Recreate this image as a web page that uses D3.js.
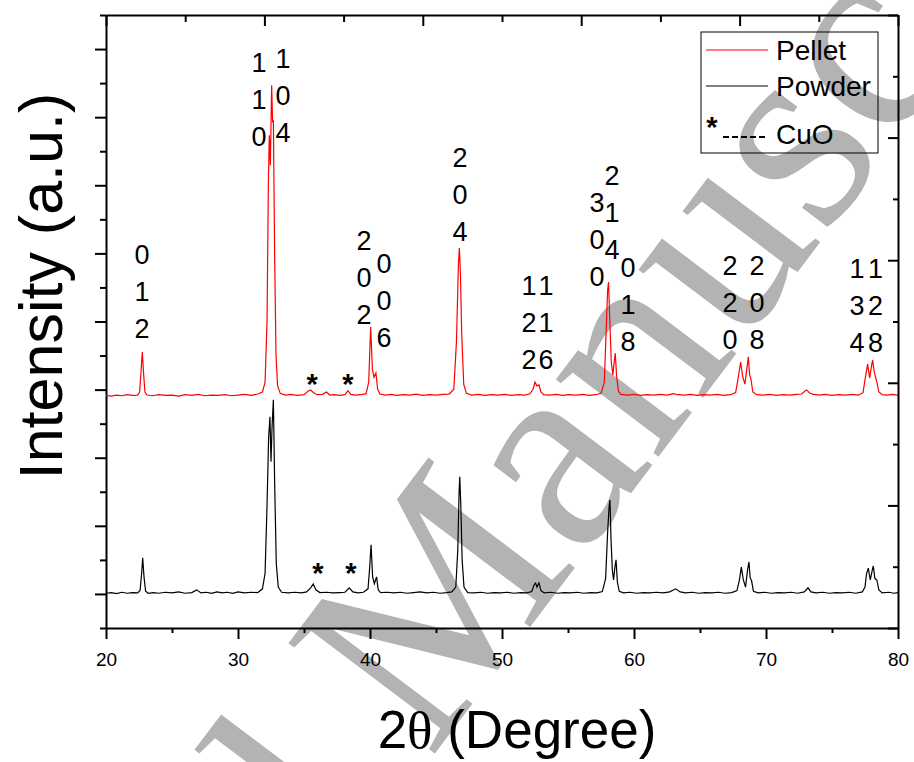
<!DOCTYPE html>
<html lang="en">
<head>
<meta charset="UTF-8">
<title>XRD - Pellet vs Powder</title>
<script src="https://d3js.org/d3.v7.min.js"></script>
<style>
    body { margin: 0; background: #fff; }
    svg { display: block; font-family: Arial, "Liberation Sans", sans-serif; }
    .frame path.domain, .frame line { stroke: #000; stroke-width: 2px; }
    .hkl { font-size: 27px; fill: #000; text-anchor: middle; }
    .star { font-size: 29px; font-weight: bold; fill: #000; text-anchor: middle; }
    .legend text { font-size: 28px; fill: #000; }
</style>
</head>
<body>
<svg width="914" height="762"></svg>
<script>
// 2theta (deg) and intensity above each pattern's own baseline (a.u.)
const pelletPattern = [
    [20.0,0.02],[20.4,0.00],[20.8,0.03],[21.2,0.01],[21.6,0.04],[22.0,0.02],[22.4,0.03],[22.55,0.12],[22.65,0.7],[22.75,1.29],
    [22.85,0.65],[22.95,0.12],[23.1,0.03],[23.5,0.01],[24.0,0.04],[24.5,0.02],[25.0,0.03],[25.5,0.00],[26.0,0.04],[26.5,0.02],
    [27.0,0.05],[27.5,0.01],[28.0,0.03],[28.5,0.02],[29.0,0.04],[29.5,0.01],[30.0,0.03],[30.5,0.05],[31.0,0.02],[31.5,0.06],
    [31.85,0.12],[32.05,0.4],[32.2,2.2],[32.3,6.2],[32.37,7.66],[32.45,6.78],[32.55,9.13],[32.62,8.04],[32.68,8.1],[32.78,4.0],
    [32.88,1.2],[33.0,0.3],[33.2,0.08],[33.6,0.03],[34.0,0.05],[34.5,0.02],[35.0,0.04],[35.3,0.14],[35.5,0.18],[35.75,0.09],
    [36.0,0.04],[36.4,0.05],[36.7,0.12],[36.95,0.03],[37.3,0.04],[37.7,0.02],[38.1,0.04],[38.33,0.16],[38.55,0.05],[38.9,0.03],
    [39.3,0.04],[39.7,0.07],[39.9,0.4],[40.05,2.03],[40.18,0.8],[40.3,0.55],[40.45,0.68],[40.58,0.2],[40.75,0.06],[41.2,0.03],
    [41.6,0.05],[42.0,0.02],[42.5,0.04],[43.0,0.03],[43.5,0.06],[44.0,0.02],[44.5,0.04],[45.0,0.03],[45.5,0.05],[46.0,0.06],
    [46.35,0.2],[46.55,1.6],[46.7,3.9],[46.77,4.35],[46.85,3.6],[46.95,1.8],[47.1,0.35],[47.3,0.08],[47.7,0.03],[48.2,0.05],
    [48.7,0.02],[49.2,0.04],[49.7,0.03],[50.2,0.05],[50.7,0.02],[51.2,0.04],[51.7,0.03],[52.1,0.06],[52.35,0.2],[52.5,0.41],
    [52.65,0.3],[52.8,0.33],[52.95,0.12],[53.15,0.04],[53.6,0.03],[54.1,0.05],[54.6,0.02],[55.1,0.04],[55.6,0.03],[56.1,0.05],
    [56.6,0.02],[57.1,0.04],[57.5,0.08],[57.75,0.4],[57.9,2.0],[58.0,3.1],[58.07,3.35],[58.15,2.4],[58.28,1.0],[58.4,0.62],
    [58.5,1.0],[58.58,1.26],[58.68,0.6],[58.82,0.15],[59.0,0.05],[59.5,0.03],[60.0,0.05],[60.5,0.02],[61.0,0.04],[61.5,0.03],
    [62.0,0.05],[62.5,0.03],[63.0,0.07],[63.3,0.04],[63.8,0.03],[64.3,0.05],[64.8,0.02],[65.3,0.04],[65.8,0.03],[66.3,0.05],
    [66.8,0.02],[67.3,0.04],[67.7,0.1],[67.9,0.55],[68.08,1.0],[68.22,0.6],[68.4,0.35],[68.55,0.8],[68.66,1.15],[68.76,0.62],
    [68.86,0.5],[69.0,0.12],[69.3,0.04],[69.8,0.03],[70.3,0.05],[70.8,0.02],[71.3,0.04],[71.8,0.03],[72.3,0.05],[72.7,0.06],
    [72.95,0.15],[73.08,0.18],[73.3,0.09],[73.6,0.05],[74.0,0.03],[74.5,0.05],[75.0,0.02],[75.5,0.04],[76.0,0.03],[76.5,0.05],
    [77.0,0.03],[77.35,0.1],[77.55,0.6],[77.7,0.94],[77.85,0.53],[78.0,0.9],[78.08,1.06],[78.2,0.7],[78.4,0.41],[78.55,0.12],
    [78.8,0.04],[79.2,0.03],[79.6,0.05],[80.0,0.02]
];

const powderPattern = [
    [20.0,0.02],[20.4,0.04],[20.8,0.01],[21.2,0.05],[21.6,0.02],[22.0,0.04],[22.4,0.03],[22.58,0.1],[22.7,0.6],[22.78,1.06],
    [22.88,0.5],[23.0,0.08],[23.2,0.02],[23.6,0.04],[24.0,0.02],[24.5,0.05],[25.0,0.03],[25.5,0.06],[26.0,0.02],[26.5,0.04],
    [26.87,0.12],[27.2,0.03],[27.6,0.05],[28.0,0.02],[28.4,0.06],[28.8,0.03],[29.2,0.05],[29.6,0.02],[30.0,0.06],[30.5,0.03],
    [31.0,0.05],[31.5,0.04],[31.85,0.15],[32.05,0.6],[32.2,2.6],[32.32,4.6],[32.42,5.2],[32.5,3.88],[32.58,4.9],[32.68,5.7],
    [32.78,3.2],[32.9,0.9],[33.05,0.2],[33.3,0.05],[33.8,0.03],[34.3,0.05],[34.8,0.03],[35.2,0.06],[35.5,0.18],[35.7,0.29],
    [35.9,0.12],[36.2,0.04],[36.7,0.05],[37.2,0.03],[37.7,0.04],[38.1,0.05],[38.43,0.18],[38.7,0.06],[39.1,0.03],[39.5,0.05],
    [39.85,0.15],[39.98,0.8],[40.08,1.44],[40.2,0.5],[40.33,0.3],[40.5,0.5],[40.62,0.12],[40.8,0.04],[41.3,0.05],[41.8,0.03],
    [42.3,0.05],[42.8,0.02],[43.3,0.04],[43.8,0.06],[44.3,0.03],[44.8,0.05],[45.3,0.02],[45.8,0.04],[46.2,0.06],[46.5,0.2],
    [46.65,1.3],[46.75,3.0],[46.8,3.44],[46.88,2.6],[46.98,1.0],[47.12,0.2],[47.4,0.04],[47.9,0.03],[48.4,0.05],[48.9,0.02],
    [49.4,0.04],[49.9,0.03],[50.4,0.05],[50.9,0.02],[51.4,0.04],[51.9,0.03],[52.25,0.07],[52.45,0.28],[52.55,0.32],[52.65,0.2],
    [52.8,0.32],[52.95,0.1],[53.2,0.03],[53.7,0.05],[54.2,0.02],[54.7,0.04],[55.2,0.03],[55.7,0.05],[56.2,0.02],[56.7,0.04],
    [57.2,0.03],[57.6,0.07],[57.85,0.45],[58.0,1.8],[58.12,2.6],[58.18,2.76],[58.26,1.6],[58.36,0.7],[58.45,0.41],[58.56,0.8],
    [58.64,1.0],[58.74,0.35],[58.88,0.08],[59.2,0.03],[59.7,0.05],[60.2,0.02],[60.7,0.04],[61.2,0.03],[61.7,0.05],[62.2,0.03],
    [62.7,0.06],[63.16,0.15],[63.5,0.06],[63.9,0.03],[64.4,0.05],[64.9,0.02],[65.4,0.04],[65.9,0.03],[66.4,0.05],[66.9,0.02],
    [67.4,0.04],[67.8,0.1],[67.98,0.4],[68.13,0.79],[68.28,0.42],[68.45,0.2],[68.6,0.7],[68.71,0.94],[68.8,0.47],[68.9,0.4],
    [69.05,0.08],[69.4,0.03],[69.9,0.05],[70.4,0.02],[70.9,0.04],[71.4,0.03],[71.9,0.05],[72.4,0.02],[72.9,0.06],[73.18,0.18],
    [73.4,0.06],[73.8,0.03],[74.3,0.05],[74.8,0.02],[75.3,0.04],[75.8,0.03],[76.3,0.05],[76.8,0.02],[77.3,0.06],[77.5,0.2],
    [77.62,0.6],[77.75,0.76],[77.9,0.41],[78.05,0.7],[78.13,0.82],[78.25,0.45],[78.4,0.41],[78.55,0.12],[78.8,0.03],[79.3,0.05],
    [79.7,0.02],[80.0,0.04]
];

// vertical stacking offsets of the two patterns
const pelletOffset = 6.81;
const powderOffset = 1.0;

// Miller index labels: indices, 2theta, level of the top digit
const hklLabels = [
    ["012", 22.73, 10.98], ["110", 31.59, 16.62], ["104", 33.41, 16.74],
    ["202", 39.55, 11.39], ["006", 41.06, 10.72], ["204", 46.82, 13.83],
    ["122", 52.05, 10.07], ["116", 53.33, 10.07], ["300", 57.2, 12.51],
    ["214", 58.33, 13.30], ["018", 59.55, 10.60], ["220", 67.27, 10.66],
    ["208", 69.32, 10.66], ["134", 76.89, 10.57], ["128", 78.3, 10.57]
];

// CuO impurity markers (2theta, level)
const cuoMarks = [[35.61, 7.34], [38.33, 7.34], [36.06, 1.79], [38.56, 1.79]];

const xTickValues = [20, 25, 30, 35, 40, 45, 50, 55, 60, 65, 70, 75, 80];
const xTickLabels = [20, 30, 40, 50, 60, 70, 80];

const svg = d3.select("svg");
const frame = { left: 106, right: 898, top: 15, bottom: 628 };

const x = d3.scaleLinear().domain([20, 80]).range([frame.left, frame.right]);
const y = d3.scaleLinear().domain([0, 18]).range([frame.bottom, frame.top]);
// top/right axes of the upper layer carry their own tick spacing
const xTop = d3.scaleLinear().domain([0, 10]).range([frame.left, frame.right]);
const yRight = d3.scaleLinear().domain([0, 10]).range([frame.bottom, frame.top]);

// "Accepted Manuscript" stamp sits behind everything
const stamp = svg.append("g")
    .attr("transform", "translate(430,760) rotate(-53)")
    .style("font-family", "'Liberation Serif', 'Times New Roman', serif")
    .style("font-size", "280px")
    .style("fill", "#b3b3b3");
stamp.append("text").attr("x", -70).attr("text-anchor", "end").text("Accepted");
stamp.append("text").attr("x", 0).text("Manuscript");

// axes
const gx = svg.append("g").attr("class", "frame")
    .attr("transform", `translate(0,${frame.bottom})`)
    .call(d3.axisBottom(x).tickValues(xTickValues).tickSizeOuter(0).tickSizeInner(11).tickPadding(14)
        .tickFormat(d => xTickLabels.includes(d) ? d : ""));
gx.selectAll(".tick line").attr("y2", d => d % 10 === 0 ? 11 : 5);
gx.attr("font-size", 19).attr("font-family", "Arial, 'Liberation Sans', sans-serif");
gx.selectAll("text").attr("fill", "#000");

const gy = svg.append("g").attr("class", "frame")
    .attr("transform", `translate(${frame.left},0)`)
    .call(d3.axisLeft(y).tickValues(d3.range(0, 19)).tickSizeOuter(0).tickFormat(""));
gy.selectAll(".tick line").attr("x2", d => d % 2 === 1 ? -11 : -6);

const gTop = svg.append("g").attr("class", "frame")
    .attr("transform", `translate(0,${frame.top})`)
    .call(d3.axisBottom(xTop).tickValues(d3.range(0, 11)).tickSizeOuter(0).tickFormat(""));
gTop.selectAll(".tick line").attr("y2", d => d % 2 === 0 ? 11 : 7);

const gRight = svg.append("g").attr("class", "frame")
    .attr("transform", `translate(${frame.right},0)`)
    .call(d3.axisLeft(yRight).tickValues(d3.range(0, 11)).tickSizeOuter(0).tickFormat(""));
gRight.selectAll(".tick line").attr("x2", d => d % 2 === 0 ? -10 : -5);

// patterns
const line = offset => d3.line().x(d => x(d[0])).y(d => y(offset + d[1]));

svg.append("path").datum(powderPattern)
    .attr("d", line(powderOffset))
    .attr("fill", "none").attr("stroke", "#000").attr("stroke-width", 1.2);

svg.append("path").datum(pelletPattern)
    .attr("d", line(pelletOffset))
    .attr("fill", "none").attr("stroke", "#ff0000").attr("stroke-width", 1.2);

// hkl labels, one digit per row
const rowGap = 37;
hklLabels.forEach(([hkl, t, level]) => {
    hkl.split("").forEach((digit, i) => {
        svg.append("text").attr("class", "hkl")
            .attr("x", x(t))
            .attr("y", y(level) + i * rowGap + 10)
            .text(digit);
    });
});

svg.selectAll(".star").data(cuoMarks).enter().append("text")
    .attr("class", "star")
    .attr("x", d => x(d[0]))
    .attr("y", d => y(d[1]) + 16)
    .text("*");

// legend
const legend = svg.append("g").attr("class", "legend");
legend.append("rect")
    .attr("x", 701).attr("y", 32).attr("width", 177).attr("height", 121)
    .attr("fill", "none").attr("stroke", "#000").attr("stroke-width", 1);
legend.append("line").attr("x1", 706).attr("x2", 768).attr("y1", 50).attr("y2", 50)
    .attr("stroke", "#ff0000").attr("stroke-width", 1.2);
legend.append("text").attr("x", 776).attr("y", 60).text("Pellet");
legend.append("line").attr("x1", 706).attr("x2", 768).attr("y1", 86).attr("y2", 86)
    .attr("stroke", "#000").attr("stroke-width", 1.2);
legend.append("text").attr("x", 776).attr("y", 96).text("Powder");
legend.append("text").attr("x", 712).attr("y", 137).attr("text-anchor", "middle")
    .style("font-weight", "bold").style("font-size", "29px").text("*");
legend.append("line").attr("x1", 723).attr("x2", 767).attr("y1", 137).attr("y2", 137)
    .attr("stroke", "#000").attr("stroke-width", 2).attr("stroke-dasharray", "6,3");
legend.append("text").attr("x", 776).attr("y", 144).text("CuO");

// axis titles
svg.append("text")
    .attr("transform", "translate(62,286) rotate(-90)")
    .attr("text-anchor", "middle")
    .style("font-size", "61px")
    .text("Intensity (a.u.)");

const xTitle = svg.append("text")
    .attr("x", 517).attr("y", 748)
    .attr("text-anchor", "middle")
    .style("font-size", "53px");
xTitle.append("tspan").text("2");
xTitle.append("tspan").style("font-family", "'Liberation Serif', 'Times New Roman', serif").text("θ");
xTitle.append("tspan").text(" (Degree)");
</script>
</body>
</html>
